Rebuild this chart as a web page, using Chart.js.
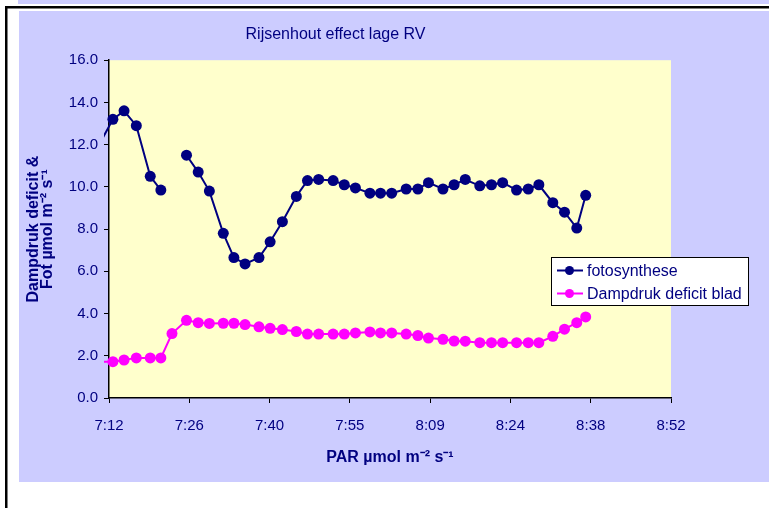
<!DOCTYPE html>
<html>
<head>
<meta charset="utf-8">
<script src="https://cdn.jsdelivr.net/npm/chart.js@4/dist/chart.umd.min.js"></script>
<style>
  html, body { margin: 0; padding: 0; background: #ffffff; }
  #wrap { width: 769px; height: 508px; }
</style>
</head>
<body>
<div id="wrap"><canvas id="grafiek" width="769" height="508"></canvas></div>
<script>
//Datos
const tijden = ['7:10:00', '7:12:42', '7:14:42', '7:16:54', '7:19:24', '7:21:18', '7:23:18', '7:25:54', '7:28:00', '7:30:00',
  '7:32:30', '7:34:24', '7:36:24', '7:38:54', '7:40:54', '7:43:06', '7:45:36', '7:47:36', '7:49:36', '7:52:12',
  '7:54:12', '7:56:12', '7:58:48', '8:00:42', '8:02:42', '8:05:18', '8:07:24', '8:09:18', '8:11:54', '8:13:54',
  '8:15:54', '8:18:30', '8:20:36', '8:22:36', '8:25:06', '8:27:12', '8:29:06', '8:31:36', '8:33:42', '8:35:54', '8:37:30'];

const fotosynthese = [11.9, 13.2, 13.6, 12.9, 10.5, 9.85, null, 11.5, 10.7, 9.8,
  7.8, 6.65, 6.35, 6.65, 7.4, 8.35, 9.55, 10.3, 10.35, 10.3,
  10.1, 9.95, 9.7, 9.7, 9.7, 9.9, 9.9, 10.2, 9.9, 10.1,
  10.35, 10.05, 10.1, 10.2, 9.85, 9.9, 10.1, 9.25, 8.8, 8.05, 9.6];

const dampdrukDeficit = [1.72, 1.72, 1.8, 1.9, 1.9, 1.9, 3.05, 3.68, 3.57, 3.53,
  3.54, 3.54, 3.48, 3.37, 3.3, 3.24, 3.15, 3.03, 3.03, 3.03,
  3.03, 3.08, 3.13, 3.08, 3.08, 3.03, 2.96, 2.84, 2.78, 2.7,
  2.69, 2.62, 2.62, 2.62, 2.62, 2.62, 2.62, 2.92, 3.26, 3.57, 3.84];

//Ejes: 0.30 .. 0.37 dia (Excel), en minutos
const xTickWaarden = [432, 446.4, 460.8, 475.2, 489.6, 504, 518.4, 532.8];
const xTickLabels = ['7:12', '7:26', '7:40', '7:55', '8:09', '8:24', '8:38', '8:52'];

const naarMinuten = (t) => {
  const p = t.split(':').map(Number);
  return p[0] * 60 + p[1] + p[2] / 60;
};

const puntos = (valores) => tijden.map((t, i) => ({ x: naarMinuten(t), y: valores[i] }));

const navy = '#000080';
const fuente = '"Liberation Sans", Arial, sans-serif';

//Fondo estilo Excel
const fondoPlugin = {
  id: 'fondo',
  beforeDraw(chart) {
    const ctx = chart.ctx;
    const a = chart.chartArea;
    ctx.save();
    ctx.fillStyle = '#ffffff';
    ctx.fillRect(0, 0, chart.width, chart.height);
    ctx.fillStyle = '#ccccff';
    ctx.fillRect(18, 0, chart.width - 18, 4);
    ctx.fillRect(19, 11, chart.width - 19, 471);
    ctx.fillStyle = '#000000';
    ctx.fillRect(5, 6, chart.width - 5, 2.5);
    ctx.fillRect(5, 6, 2.5, chart.height - 6);
    ctx.fillStyle = '#ffffcc';
    ctx.fillRect(a.left, a.top, a.right - a.left, a.bottom - a.top);
    ctx.restore();
  }
};

//Leyenda con marco
const leyendaPlugin = {
  id: 'leyenda',
  afterDraw(chart) {
    const ctx = chart.ctx;
    ctx.save();
    ctx.fillStyle = '#ffffff';
    ctx.fillRect(551.5, 257.5, 197, 48);
    ctx.strokeStyle = '#000000';
    ctx.lineWidth = 1;
    ctx.strokeRect(551.5, 257.5, 197, 48);
    chart.data.datasets.forEach((ds, i) => {
      const y = 270.5 + i * 23;
      ctx.strokeStyle = ds.borderColor;
      ctx.lineWidth = 2;
      ctx.beginPath();
      ctx.moveTo(557, y);
      ctx.lineTo(583, y);
      ctx.stroke();
      ctx.fillStyle = ds.borderColor;
      ctx.beginPath();
      ctx.arc(569.5, y, 4.5, 0, Math.PI * 2);
      ctx.fill();
      ctx.fillStyle = navy;
      ctx.font = '16px ' + fuente;
      ctx.textBaseline = 'middle';
      ctx.fillText(ds.label, 587, y + 1);
    });
    ctx.restore();
  }
};

const grafiek = document.getElementById('grafiek');

let grafiek_OBJ = new Chart(grafiek, {
  type: 'line',
  data: {
    datasets: [{
      label: 'fotosynthese',
      data: puntos(fotosynthese),
      borderColor: navy,
      backgroundColor: navy,
      borderWidth: 2,
      pointRadius: 5.5,
      pointBorderWidth: 0,
      spanGaps: false,
      clip: { left: 5, top: 0, right: 0, bottom: 0 },
      tension: 0
    }, {
      label: 'Dampdruk deficit blad',
      data: puntos(dampdrukDeficit),
      borderColor: '#ff00ff',
      backgroundColor: '#ff00ff',
      borderWidth: 2,
      pointRadius: 5.5,
      pointBorderWidth: 0,
      clip: { left: 5, top: 0, right: 0, bottom: 0 },
      tension: 0
    }]
  },
  options: {
    responsive: false,
    animation: false,
    devicePixelRatio: 1,
    layout: { padding: { left: 0, right: 98, top: 0, bottom: 0 } },
    plugins: {
      legend: { display: false },
      tooltip: { enabled: false },
      title: {
        display: true,
        text: 'Rijsenhout effect lage RV',
        color: navy,
        font: { family: fuente, size: 16, weight: 'normal' },
        padding: { top: 25, bottom: 16 }
      }
    },
    scales: {
      x: {
        type: 'linear',
        min: 432,
        max: 532.8,
        afterFit: (scale) => { scale.height = 110; },
        afterBuildTicks: (scale) => { scale.ticks = xTickWaarden.map(v => ({ value: v })); },
        ticks: {
          color: navy,
          font: { family: fuente, size: 15 },
          padding: 14,
          maxRotation: 0,
          callback: (v, i) => xTickLabels[i]
        },
        grid: { drawOnChartArea: false, color: '#000000', tickLength: 5, tickWidth: 1 },
        border: { color: '#000000', width: 1.5 },
        title: {
          display: true,
          text: 'PAR µmol m⁻² s⁻¹',
          color: navy,
          font: { family: fuente, size: 16, weight: 'bold' },
          padding: { top: 0, bottom: 41 }
        }
      },
      y: {
        min: 0,
        max: 16,
        afterFit: (scale) => { scale.width = 109; },
        ticks: {
          stepSize: 2,
          color: navy,
          font: { family: fuente, size: 15 },
          padding: 6,
          callback: (v) => v.toFixed(1)
        },
        grid: { drawOnChartArea: false, color: '#000000', tickLength: 5, tickWidth: 1 },
        border: { color: '#000000', width: 1.5 },
        title: {
          display: true,
          text: ['Dampdruk deficit &', 'Fot µmol m⁻² s⁻¹'],
          color: navy,
          font: { family: fuente, size: 16, weight: 'bold', lineHeight: 0.9 },
          padding: { top: 26, bottom: 0 }
        }
      }
    }
  },
  plugins: [fondoPlugin, leyendaPlugin]
});
</script>
</body>
</html>
